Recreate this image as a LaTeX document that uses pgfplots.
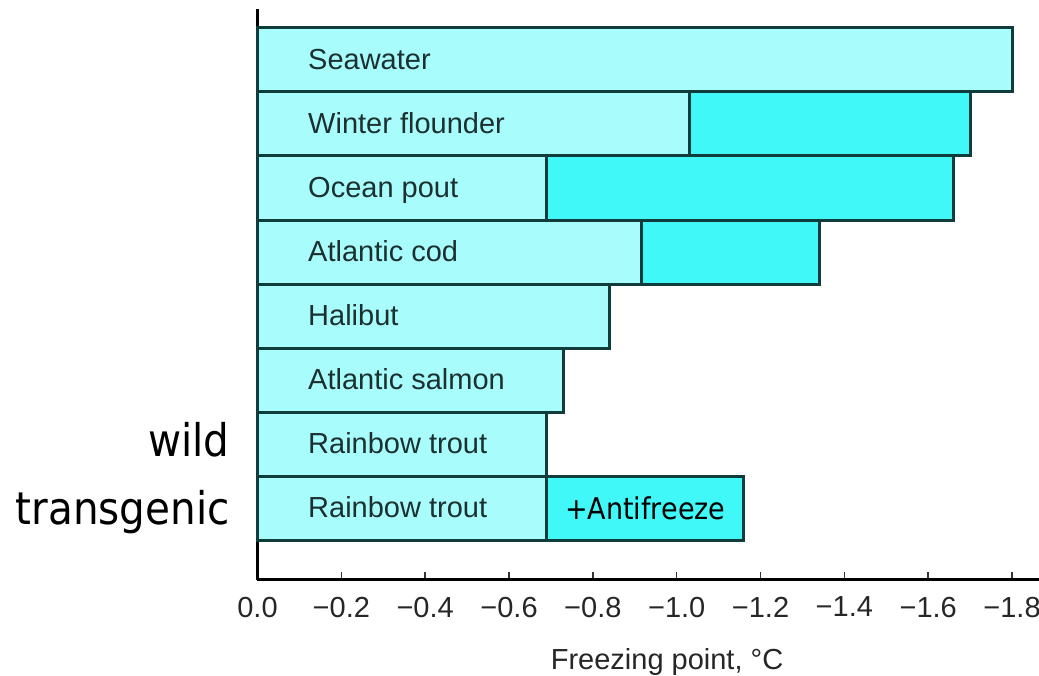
\documentclass[border=0pt]{standalone}
\usepackage{pgfplots}
\pgfplotsset{compat=1.18}
\usepackage{fontspec}
\setmainfont{Liberation Sans}
\newfontfamily\tah{DejaVu Sans}[FakeStretch=0.9]
\definecolor{lightc}{HTML}{A8FCFC}
\definecolor{darkc}{HTML}{40F8F8}
\definecolor{edgec}{HTML}{103C3C}
\definecolor{labc}{HTML}{1C3030}
\begin{document}
\begin{tikzpicture}
\begin{axis}[
  x=209.6pt, y=32.05pt,
  x dir=reverse,
  xmin=-1.8643, xmax=0,
  ymin=-1.115, ymax=7.79,
  axis x line=bottom, axis y line=left,
  axis line style={-, line width=1.5pt, black},
  ytick=\empty,
  xtick={0,-0.2,-0.4,-0.6,-0.8,-1.0,-1.2,-1.4,-1.6,-1.8},
  xticklabels={0.0,−0.2,−0.4,−0.6,−0.8,−1.0,−1.2,−1.4,−1.6,−1.8},
  tick align=inside, major tick length=4pt,
  xtick style={line width=0.8pt, black!80},
  xticklabel style={font=\fontsize{14.5}{16}\selectfont, text=black!85, yshift=-5pt},
  xlabel={Freezing point, °C},
  xlabel style={font=\fontsize{14.5}{16}\selectfont, text=black!85, xshift=9.4pt, yshift=-8.5pt},
  clip=false,
  xbar, bar width=1, bar shift=0pt,
]
\addplot[fill=darkc, draw=edgec, line width=1.5pt] coordinates {(-1.70,6) (-1.66,5) (-1.34,4) (-1.16,0)};
\addplot[fill=lightc, draw=edgec, line width=1.5pt] coordinates {(-1.80,7) (-1.03,6) (-0.69,5) (-0.915,4) (-0.84,3) (-0.73,2) (-0.69,1) (-0.69,0)};
\begin{scope}[every node/.style={anchor=base west, text=labc, font=\fontsize{14.5}{17}\selectfont, inner sep=0pt, yshift=-4.75pt}]
\node at (axis cs:-0.12,7) {Seawater};
\node at (axis cs:-0.12,6) {Winter flounder};
\node at (axis cs:-0.12,5) {Ocean pout};
\node at (axis cs:-0.12,4) {Atlantic cod};
\node at (axis cs:-0.12,3) {Halibut};
\node at (axis cs:-0.12,2) {Atlantic salmon};
\node at (axis cs:-0.12,1) {Rainbow trout};
\node at (axis cs:-0.12,0) {Rainbow trout};
\end{scope}
\node[anchor=base, inner sep=0pt, font=\tah\fontsize{15}{18}\selectfont, yshift=-5.75pt] at (axis cs:-0.925,0) {+Antifreeze};
\node[anchor=base east, inner sep=0pt, font=\tah\fontsize{22.5}{26}\selectfont, yshift=-6.25pt] at (axis cs:0.0656,1) {wild};
\node[anchor=base east, inner sep=0pt, font=\tah\fontsize{22.5}{26}\selectfont, yshift=-8.25pt] at (axis cs:0.0656,0) {transgenic};
\coordinate (bl) at (axis cs:0.6143,-2.613);
\coordinate (tr) at (axis cs:-1.8643,7.933);
\end{axis}
\pgfresetboundingbox
\path (bl) rectangle (tr);
\end{tikzpicture}
\end{document}
